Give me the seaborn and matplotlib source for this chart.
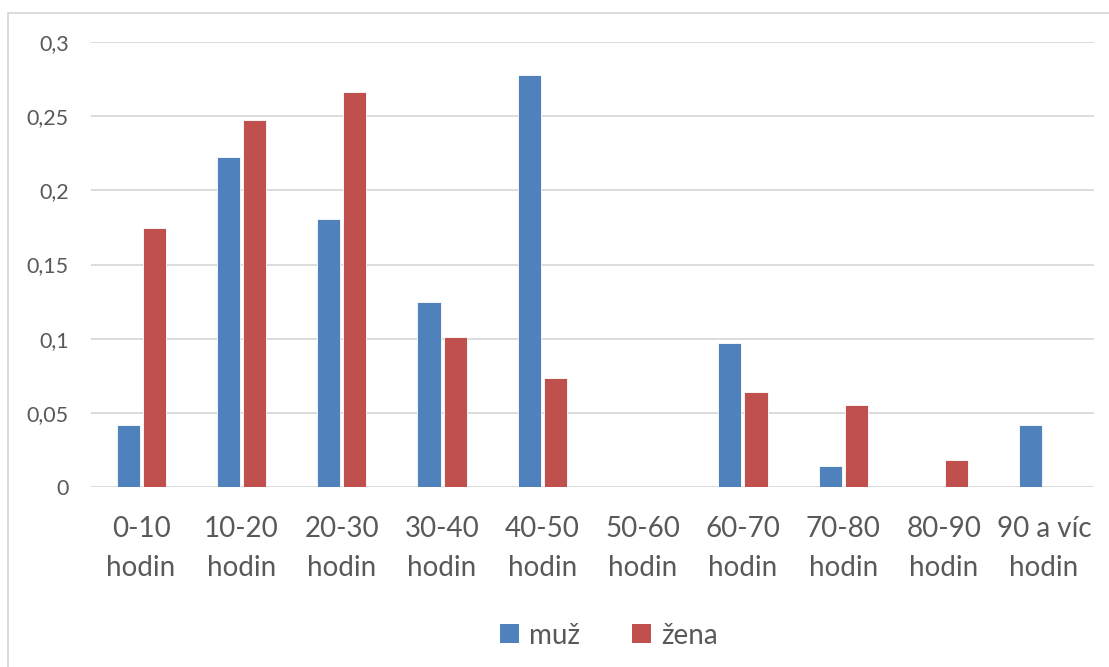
import matplotlib
matplotlib.use("Agg")
import matplotlib.pyplot as plt
import matplotlib.patches as mpatches
from matplotlib.lines import Line2D
import seaborn as sns
import pandas as pd

categories = ["0-10\nhodin", "10-20\nhodin", "20-30\nhodin", "30-40\nhodin", "40-50\nhodin",
              "50-60\nhodin", "60-70\nhodin", "70-80\nhodin", "80-90\nhodin", "90 a víc\nhodin"]
muz = [0.0417, 0.2222, 0.1806, 0.125, 0.2778, 0.0, 0.0972, 0.0139, 0.0, 0.0417]
zena = [0.1743, 0.2477, 0.2661, 0.1009, 0.0734, 0.0, 0.0642, 0.055, 0.0183, 0.0]
series_names = ["muž", "žena"]
yticks = [0, 0.05, 0.1, 0.15, 0.2, 0.25, 0.3]
ytick_labels = ["0", "0,05", "0,1", "0,15", "0,2", "0,25", "0,3"]

colors = ["#4F81BD", "#C0504D"]
text_color = "#595959"
grid_color = "#D9D9D9"

df = pd.DataFrame({
    "kategorie": categories * 2,
    "podíl": muz + zena,
    "pohlaví": [series_names[0]] * len(categories) + [series_names[1]] * len(categories),
})

sns.set_theme(style="white")
plt.rcParams["font.family"] = ["Lato", "DejaVu Sans"]

fig = plt.figure(figsize=(11.09, 6.67), dpi=100)
ax = fig.add_axes([0.082, 0.2699, 0.9045, 0.667])

sns.barplot(data=df, x="kategorie", y="podíl", hue="pohlaví", order=categories,
            hue_order=series_names, palette=colors, width=0.52, gap=0.115,
            saturation=1, edgecolor="#FFFFFF", linewidth=0.6, ax=ax, legend=False)

ax.set_xlim(-0.5, len(categories) - 0.5)
ax.set_ylim(0, 0.3)
ax.set_yticks(yticks)
ax.set_yticklabels(ytick_labels)
ax.yaxis.grid(True, color=grid_color, linewidth=1.3)
ax.set_axisbelow(True)
for s in ax.spines.values():
    s.set_visible(False)
ax.set_xlabel("")
ax.set_ylabel("")
ax.tick_params(axis="y", labelsize=15.5, colors=text_color, length=0, pad=16)
ax.tick_params(axis="x", labelsize=20, colors=text_color, length=0, pad=21)
for lbl in ax.get_xticklabels():
    lbl.set_linespacing(1.6)
    lbl.set_horizontalalignment("center")

handles = [mpatches.Patch(facecolor=c, edgecolor="none") for c in colors]
fig.legend(handles, series_names, loc="center", bbox_to_anchor=(0.549, 0.047),
           ncol=2, frameon=False, fontsize=20, labelcolor=text_color,
           handlelength=0.68, handleheight=0.68, handletextpad=0.35,
           columnspacing=1.9)

# chart area outline (top and left edges)
fig.add_artist(Line2D([8 / 1109, 8 / 1109], [0, 1 - 13 / 667], transform=fig.transFigure,
                      color="#D9D9D9", linewidth=1.3))
fig.add_artist(Line2D([8 / 1109, 1], [1 - 13 / 667, 1 - 13 / 667], transform=fig.transFigure,
                      color="#D9D9D9", linewidth=1.3))

fig.savefig("out.png", dpi=100, facecolor="white")
